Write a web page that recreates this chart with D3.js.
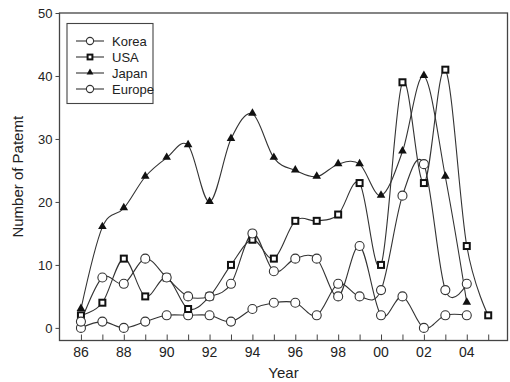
<!DOCTYPE html>
<html>
<head>
<meta charset="utf-8">
<script src="https://cdn.jsdelivr.net/npm/d3@7"></script>
<style>
  body { margin: 0; background: #fff; }
  text { font-family: "Liberation Sans", Arial, sans-serif; fill: #222; }
</style>
</head>
<body>
<div id="chart"></div>
<script>
var years = [86, 87, 88, 89, 90, 91, 92, 93, 94, 95, 96, 97, 98, 99, 100, 101, 102, 103, 104, 105];
var korea  = [0, 1, 0, 1, 2, 2, 2, 1, 3, 4, 4, 2, 7, 5, 6, 21, 26, 6, 7];
var usa    = [2, 4, 11, 5, 8, 3, 5, 10, 14, 11, 17, 17, 18, 23, 10, 39, 23, 41, 13, 2];
var japan  = [3, 16, 19, 24, 27, 29, 20, 30, 34, 27, 25, 24, 26, 26, 21, 28, 40, 24, 4];
var europe = [1, 8, 7, 11, 8, 5, 5, 7, 15, 9, 11, 11, 5, 13, 2, 5, 0, 2, 2];
var seriesNames = ["Korea", "USA", "Japan", "Europe"];
var xTickLabels = ["86", "88", "90", "92", "94", "96", "98", "00", "02", "04"];
var yTicks = [0, 10, 20, 30, 40, 50];

function init() {
    var w = 510, h = 382;
    var left = 59.5, right = 507.5, top = 13, bottom = 340.5;

    var svg = d3.select("#chart").append("svg")
        .attr("width", w)
        .attr("height", h);

    var xScale = d3.scaleLinear().domain([85, 105.9]).range([left, right]);
    var yScale = d3.scaleLinear().domain([-2, 50]).range([bottom, top]);

    var series = [
        { name: "Korea", values: korea, marker: "circle" },
        { name: "USA", values: usa, marker: "square" },
        { name: "Japan", values: japan, marker: "triangle" },
        { name: "Europe", values: europe, marker: "circle" }
    ];

    var line = d3.line()
        .x(function(d) { return xScale(d.x); })
        .y(function(d) { return yScale(d.y); })
        .curve(d3.curveCardinal.tension(0));

    function pts(vals) {
        return vals.map(function(v, i) { return { x: years[i], y: v }; });
    }

    // frame
    svg.append("rect")
        .attr("x", left).attr("y", top)
        .attr("width", right - left).attr("height", bottom - top)
        .attr("fill", "none").attr("stroke", "#444").attr("stroke-width", 1.3);

    // x ticks (inside), every year
    var xAxis = d3.axisBottom(xScale)
        .tickValues(years)
        .tickSize(-6)
        .tickFormat("");
    var gx = svg.append("g")
        .attr("transform", "translate(0," + bottom + ")")
        .call(xAxis);
    gx.select(".domain").remove();
    gx.selectAll("line").attr("stroke", "#444");

    var labelYears = xTickLabels.map(function(s) { var n = +s; return n < 50 ? n + 100 : n; });
    svg.selectAll(".xlab").data(xTickLabels).enter().append("text")
        .attr("x", function(d, i) { return xScale(labelYears[i]); })
        .attr("y", 357)
        .attr("text-anchor", "middle")
        .style("font-size", "14px")
        .text(function(d) { return d; });

    var yAxis = d3.axisLeft(yScale)
        .tickValues(yTicks)
        .tickSize(4)
        .tickPadding(3);
    var gy = svg.append("g")
        .attr("transform", "translate(" + left + ",0)")
        .call(yAxis);
    gy.select(".domain").remove();
    gy.selectAll("line").attr("stroke", "#444");
    gy.selectAll("text").style("font-size", "13px").attr("fill", "#222")
        .style("font-family", "Liberation Sans, Arial, sans-serif");

    // axis titles
    svg.append("text")
        .attr("x", (left + right) / 2)
        .attr("y", 378)
        .attr("text-anchor", "middle")
        .style("font-size", "15px")
        .text("Year");
    svg.append("text")
        .attr("transform", "translate(23," + ((top + bottom) / 2) + ") rotate(-90)")
        .attr("text-anchor", "middle")
        .style("font-size", "15px")
        .text("Number of Patemt");

    function drawMarker(g, type, x, y, k) {
        k = k || 1;
        if (type === "circle") {
            g.append("circle").attr("cx", x).attr("cy", y).attr("r", 4.5 * k)
                .attr("fill", "#fff").attr("stroke", "#333").attr("stroke-width", 1.1);
        } else if (type === "square") {
            var s = 6 * k;
            g.append("rect").attr("x", x - s / 2).attr("y", y - s / 2)
                .attr("width", s).attr("height", s)
                .attr("fill", "#fff").attr("stroke", "#111").attr("stroke-width", 2);
        } else {
            g.append("path")
                .attr("d", d3.symbol().type(d3.symbolTriangle).size(32 * k * k)())
                .attr("transform", "translate(" + x + "," + (y - 0.5) + ")")
                .attr("fill", "#111");
        }
    }

    series.forEach(function(s) {
        var data = pts(s.values);
        svg.append("path")
            .datum(data)
            .attr("d", line)
            .attr("fill", "none")
            .attr("stroke", "#333")
            .attr("stroke-width", 1.1);
    });
    series.forEach(function(s) {
        var g = svg.append("g");
        pts(s.values).forEach(function(d) {
            drawMarker(g, s.marker, xScale(d.x), yScale(d.y));
        });
    });

    // legend
    var lg = svg.append("g");
    lg.append("rect")
        .attr("x", 67).attr("y", 23.5)
        .attr("width", 86).attr("height", 80)
        .attr("fill", "#fff").attr("stroke", "#444").attr("stroke-width", 1.1);
    series.forEach(function(s, i) {
        var y = 41 + i * 16;
        lg.append("line").attr("x1", 76).attr("x2", 104).attr("y1", y).attr("y2", y)
            .attr("stroke", "#333").attr("stroke-width", 1.1);
        drawMarker(lg, s.marker, 90, y, 0.8);
        lg.append("text")
            .attr("x", 112).attr("y", y + 4.5)
            .style("font-size", "13px")
            .text(seriesNames[i]);
    });
}

window.onload = init;
</script>
</body>
</html>
